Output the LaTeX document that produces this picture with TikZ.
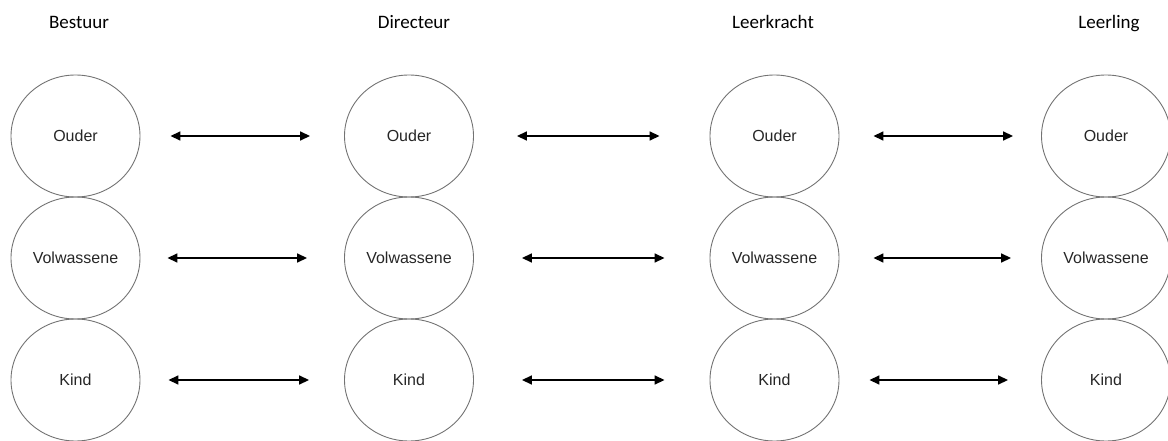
\documentclass[tikz,border=0pt]{standalone}
\usepackage{fontspec}
\setmainfont{Liberation Sans}
\newfontfamily\headfont{Carlito}
\usetikzlibrary{shapes.geometric,arrows.meta}
\begin{document}
\begin{tikzpicture}[x=1pt,y=1pt,
  role/.style={ellipse,draw=black!55,line width=0.9pt,minimum width=129pt,minimum height=122pt,inner sep=0pt,font=\fontsize{16}{18}\selectfont,text=black!85},
  head/.style={font=\headfont\fontsize{19}{21}\selectfont,text=black,anchor=base},
  arr/.style={line width=1.6pt,{Triangle[length=10pt,width=9pt]}-{Triangle[length=10pt,width=9pt]}}]
\useasboundingbox (0,0) rectangle (1168,440);
% headers
\node[head] (h1) at (79,411) {Bestuur};
\node[head] (h2) at (414,411) {Directeur};
\node[head] (h3) at (773,411) {Leerkracht};
\node[head] (h4) at (1109,411) {Leerling};
% columns
\foreach \n/\x in {b/75.5,d/409,l/774.5,s/1106}{
  \node[role] (\n1) at (\x,304) {Ouder};
  \node[role] (\n2) at (\x,182) {Volwassene};
  \node[role] (\n3) at (\x,60) {Kind};
}
% arrows
\draw[arr] ([xshift=30pt]b1.east) -- ([xshift=-34pt]d1.west);
\draw[arr] ([xshift=27pt]b2.east) -- ([xshift=-37pt]d2.west);
\draw[arr] ([xshift=28pt]b3.east) -- ([xshift=-35pt]d3.west);
\draw[arr] ([xshift=43pt]d1.east) -- ([xshift=-50pt]l1.west);
\draw[arr] ([xshift=48pt]d2.east) -- ([xshift=-45pt]l2.west);
\draw[arr] ([xshift=48pt]d3.east) -- ([xshift=-45pt]l3.west);
\draw[arr] ([xshift=34pt]l1.east) -- ([xshift=-28pt]s1.west);
\draw[arr] ([xshift=34pt]l2.east) -- ([xshift=-30pt]s2.west);
\draw[arr] ([xshift=30pt]l3.east) -- ([xshift=-33pt]s3.west);
\end{tikzpicture}
\end{document}
